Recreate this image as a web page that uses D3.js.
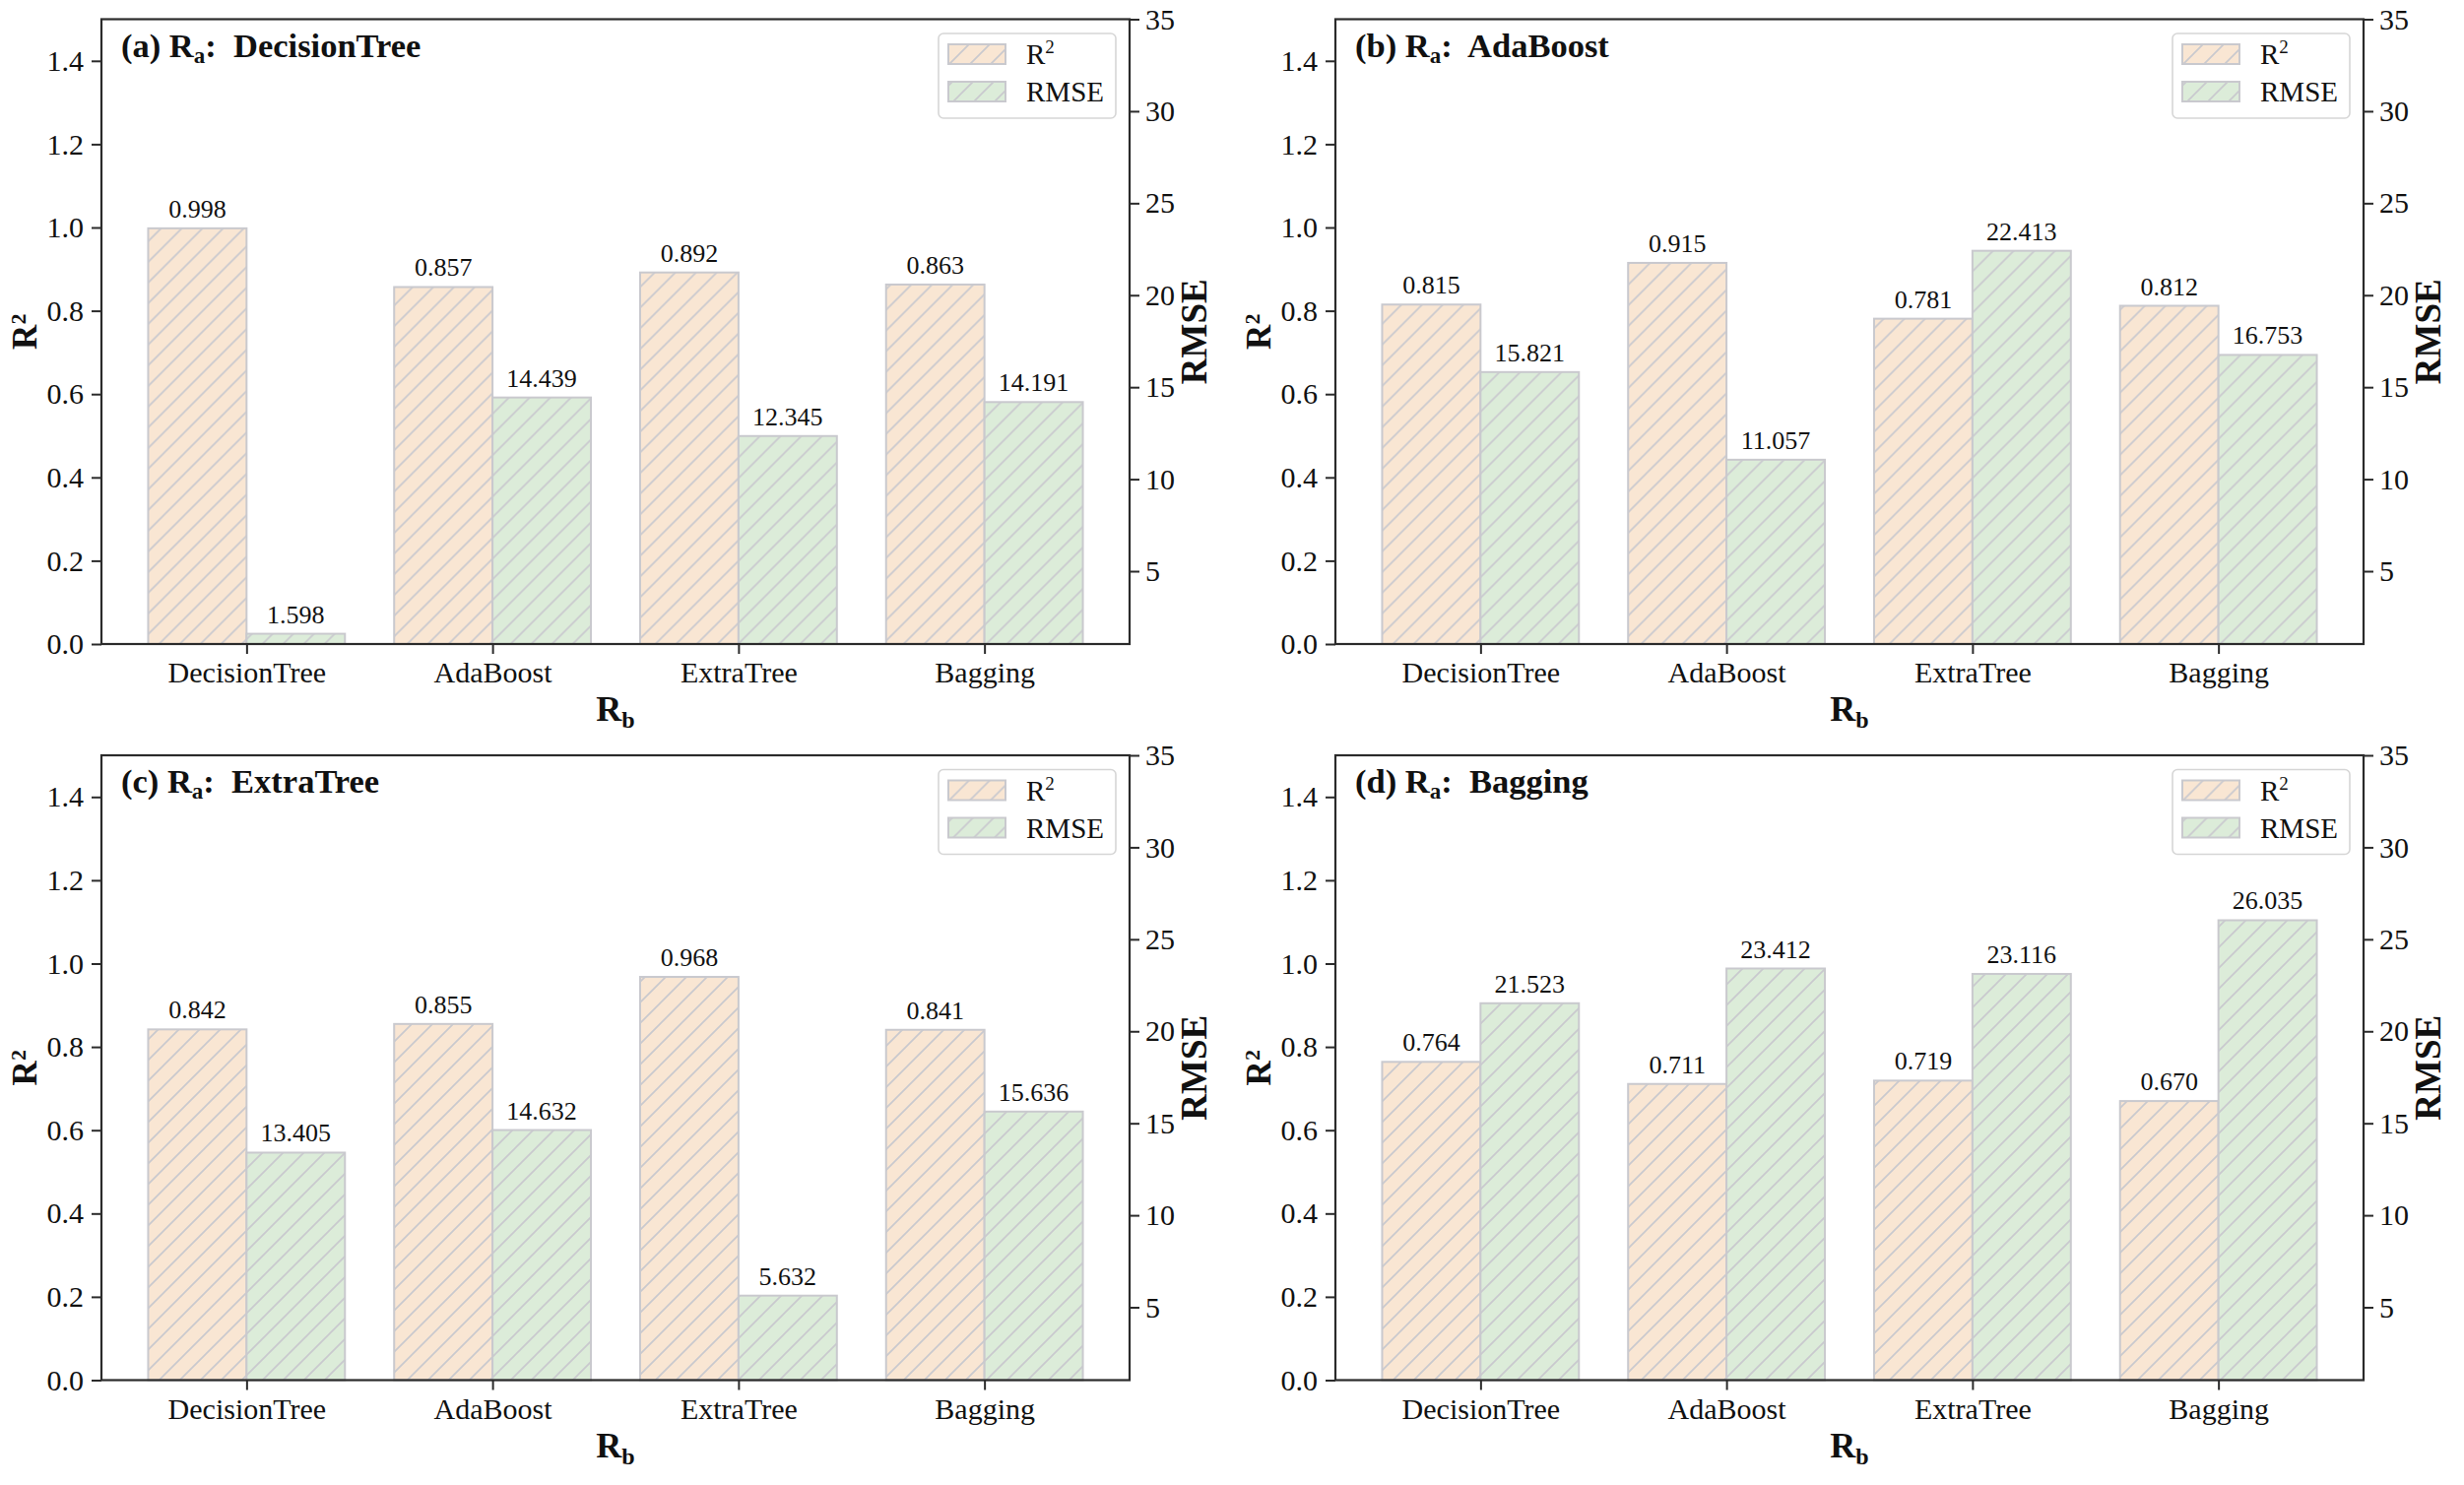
<!DOCTYPE html>
<html><head><meta charset="utf-8">
<script src="https://cdn.jsdelivr.net/npm/d3@7"></script>
<style>
body{margin:0;background:#fff}
svg{display:block;font-family:"Liberation Serif","DejaVu Serif",serif}
</style>
</head><body>
<svg id="chart" width="2502" height="1508"></svg>
<script>
// ---------- data ----------
const categories = ["DecisionTree", "AdaBoost", "ExtraTree", "Bagging"];
const panelLetters = ["(a)", "(b)", "(c)", "(d)"];
const panelModels = ["DecisionTree", "AdaBoost", "ExtraTree", "Bagging"];

const r2_a   = [0.998, 0.857, 0.892, 0.863];
const rmse_a = [1.598, 14.439, 12.345, 14.191];
const r2_b   = [0.815, 0.915, 0.781, 0.812];
const rmse_b = [15.821, 11.057, 22.413, 16.753];
const r2_c   = [0.842, 0.855, 0.968, 0.841];
const rmse_c = [13.405, 14.632, 5.632, 15.636];
const r2_d   = [0.764, 0.711, 0.719, 0.670];
const rmse_d = [21.523, 23.412, 23.116, 26.035];

const r2Ticks = [0.0, 0.2, 0.4, 0.6, 0.8, 1.0, 1.2, 1.4];
const rmseTicks = [5, 10, 15, 20, 25, 30, 35];
const r2Domain = [0, 1.5];
const rmseDomain = [1.04, 35];
const seriesNames = ["R2", "RMSE"];

const panelsR2 = [r2_a, r2_b, r2_c, r2_d];
const panelsRMSE = [rmse_a, rmse_b, rmse_c, rmse_d];

// ---------- layout ----------
const svg = d3.select("#chart");
const W = 1044, H = 634.5;
const lefts = [103, 1356];
const tops = [19.5, 767];
const colR2 = "#f9e6d3", colRMSE = "#dcecd9", edge = "#c9c9ce", spine = "#2b2b2b";

const defs = svg.append("defs");
function makePattern(id, fill) {
  const p = defs.append("pattern").attr("id", id).attr("patternUnits", "userSpaceOnUse")
    .attr("width", 21).attr("height", 21);
  p.append("rect").attr("width", 21).attr("height", 21).attr("fill", fill);
  p.append("path").attr("d", "M0,21 L21,0 M-6,6 L6,-6 M15,27 L27,15")
    .attr("stroke", edge).attr("stroke-width", 1.7).attr("fill", "none");
}
makePattern("hR2", colR2);
makePattern("hRMSE", colRMSE);

const x = d3.scaleLinear().domain([-0.59, 3.59]).range([0, W]);
const yL = d3.scaleLinear().domain(r2Domain).range([H, 0]);
const yR = d3.scaleLinear().domain(rmseDomain).range([H, 0]);
const barW = 0.4;

panelsR2.forEach((r2, pi) => {
  const rmse = panelsRMSE[pi];
  const g = svg.append("g").attr("transform", `translate(${lefts[pi % 2]},${tops[Math.floor(pi / 2)]})`);

  // bars
  const idx = d3.range(categories.length);
  g.selectAll(".r2").data(idx).join("rect")
    .attr("x", i => x(i - barW)).attr("width", i => x(i) - x(i - barW))
    .attr("y", i => yL(r2[i])).attr("height", i => H - yL(r2[i]))
    .attr("fill", "url(#hR2)").attr("stroke", edge).attr("stroke-width", 2);
  g.selectAll(".rm").data(idx).join("rect")
    .attr("x", i => x(i)).attr("width", i => x(i + barW) - x(i))
    .attr("y", i => yR(rmse[i])).attr("height", i => H - yR(rmse[i]))
    .attr("fill", "url(#hRMSE)").attr("stroke", edge).attr("stroke-width", 2);

  // value labels
  const fmt = d3.format(".3f");
  g.selectAll(".lr2").data(idx).join("text")
    .attr("x", i => x(i - barW / 2)).attr("y", i => yL(r2[i]) - 11)
    .attr("text-anchor", "middle").attr("font-size", 26).attr("fill", "#111")
    .text(i => fmt(r2[i]));
  g.selectAll(".lrm").data(idx).join("text")
    .attr("x", i => x(i + barW / 2)).attr("y", i => yR(rmse[i]) - 11)
    .attr("text-anchor", "middle").attr("font-size", 26).attr("fill", "#111")
    .text(i => fmt(rmse[i]));

  // axes
  const axL = g.append("g").call(d3.axisLeft(yL).tickValues(r2Ticks).tickFormat(d3.format(".1f"))
    .tickSize(10).tickSizeOuter(0).tickPadding(8));
  const axR = g.append("g").attr("transform", `translate(${W},0)`)
    .call(d3.axisRight(yR).tickValues(rmseTicks).tickFormat(d3.format("d"))
    .tickSize(10).tickSizeOuter(0).tickPadding(6));
  const axB = g.append("g").attr("transform", `translate(0,${H})`)
    .call(d3.axisBottom(x).tickValues(idx).tickFormat(i => categories[i])
    .tickSize(10).tickSizeOuter(0).tickPadding(8));
  [axL, axR, axB].forEach(a => {
    a.select(".domain").remove();
    a.selectAll("line").attr("stroke", spine).attr("stroke-width", 2);
    a.selectAll("text").attr("font-size", 30).attr("fill", "#111")
      .attr("font-family", '"Liberation Serif",serif');
  });

  // frame
  g.append("rect").attr("width", W).attr("height", H).attr("fill", "none")
    .attr("stroke", spine).attr("stroke-width", 2.2);

  // title
  const t = g.append("text").attr("x", 20).attr("y", 38).attr("font-size", 34.5)
    .attr("font-weight", "bold").attr("fill", "#111");
  t.append("tspan").text(panelLetters[pi] + " R");
  t.append("tspan").attr("font-size", 23).attr("dy", 6).text("a");
  t.append("tspan").attr("dy", -6).text(":\u00a0 " + panelModels[pi]);

  // axis labels
  const xl = g.append("text").attr("x", W / 2).attr("y", H + 78).attr("text-anchor", "middle")
    .attr("font-size", 36).attr("font-weight", "bold").attr("fill", "#111");
  xl.append("tspan").text("R");
  xl.append("tspan").attr("font-size", 24).attr("dy", 7).text("b");

  const yl = g.append("text").attr("transform", `translate(${-66},${H / 2}) rotate(-90)`)
    .attr("text-anchor", "middle").attr("font-size", 35).attr("font-weight", "bold").attr("fill", "#111");
  yl.append("tspan").text("R");
  yl.append("tspan").attr("font-size", 22).attr("dy", -11).text("2");

  g.append("text").attr("transform", `translate(${W + 78},${H / 2}) rotate(-90)`)
    .attr("text-anchor", "middle").attr("font-size", 37).attr("font-weight", "bold").attr("fill", "#111")
    .text("RMSE");

  // legend
  const lg = g.append("g").attr("transform", `translate(${W - 194},14.5)`);
  lg.append("rect").attr("width", 180).attr("height", 86).attr("rx", 5)
    .attr("fill", "#fff").attr("fill-opacity", 0.85).attr("stroke", "#d6d6d6").attr("stroke-width", 1.6);
  const legFills = ["url(#hR2)", "url(#hRMSE)"];
  seriesNames.forEach((s, k) => {
    lg.append("rect").attr("x", 10).attr("y", 11 + k * 38).attr("width", 58).attr("height", 20)
      .attr("fill", legFills[k]).attr("stroke", edge).attr("stroke-width", 2);
    const lt = lg.append("text").attr("x", 89).attr("y", 31 + k * 38).attr("font-size", 29).attr("fill", "#111");
    if (s === "R2") {
      lt.append("tspan").text("R");
      lt.append("tspan").attr("font-size", 19).attr("dy", -11).text("2");
    } else {
      lt.text(s);
    }
  });
});
</script>
</body></html>
